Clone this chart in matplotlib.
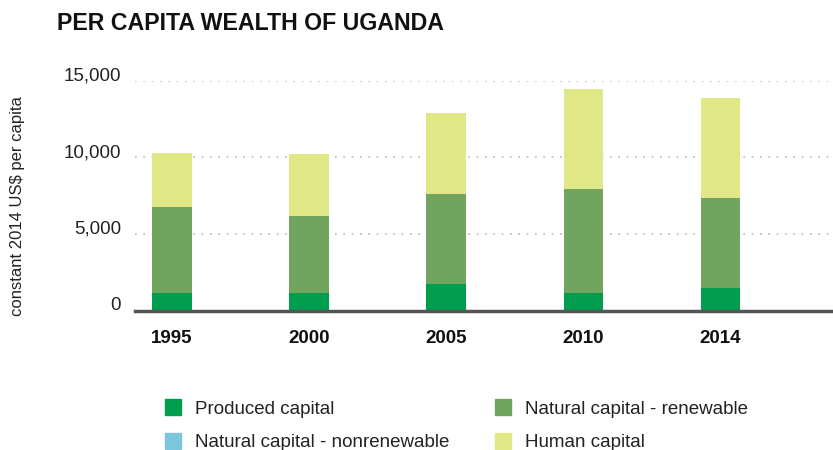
import numpy as np
import matplotlib
matplotlib.use('Agg')
import matplotlib.pyplot as plt
from matplotlib.patches import Patch

plt.rcParams['font.family'] = ['Liberation Sans', 'DejaVu Sans']

years = ['1995', '2000', '2005', '2010', '2014']
produced = [1170, 1110, 1700, 1110, 1500]
nonrenewable = [0, 0, 0, 0, 0]
renewable = [5610, 5080, 5930, 6840, 5870]
human = [3520, 4050, 5280, 6520, 6520]

colors = {'produced': '#009d4f', 'renewable': '#70a45f',
          'nonrenewable': '#7cc6dd', 'human': '#dfe787'}

fig = plt.figure(figsize=(8.33, 4.5), dpi=100)
ax = fig.add_axes([135/833, 1-310.5/450, 1-135/833, (310.5-80.7)/450])

x = np.arange(len(years))
w = 0.29
bottom = np.zeros(len(years))
for vals, key in [(produced, 'produced'), (nonrenewable, 'nonrenewable'),
                  (renewable, 'renewable'), (human, 'human')]:
    ax.bar(x, vals, w, bottom=bottom, color=colors[key], zorder=3, linewidth=0)
    bottom += np.array(vals)

ax.set_xlim(-0.27, 4.82)
ax.set_ylim(0, 15000)
ax.set_yticks([0, 5000, 10000, 15000])
ax.set_yticklabels(['0', '5,000', '10,000', '15,000'], fontsize=13.5, color='#222222')
# labels sit on top of their grid lines
for lab in ax.get_yticklabels():
    lab.set_va('baseline')
ax.set_xticks(x)
ax.set_xticklabels(years, fontsize=13.5, fontweight='bold', color='#111111')
ax.tick_params(axis='both', length=0)
ax.tick_params(axis='y', pad=10)
ax.tick_params(axis='x', pad=14)
ax.grid(axis='y', color='#bbbbbb', linestyle=(0, (1, 4)), linewidth=1.2, zorder=0)
for s in ['top', 'right', 'left']:
    ax.spines[s].set_visible(False)
ax.spines['bottom'].set_color('#555555')
ax.spines['bottom'].set_linewidth(2.5)
ax.spines['bottom'].set_zorder(4)

fig.text(18/833, 1-206/450, 'constant 2014 US$ per capita', rotation=90,
         ha='center', va='center', fontsize=12, color='#222222')

fig.text(57/833, 1-23/450, 'PER CAPITA WEALTH OF UGANDA',
         fontsize=16.7, fontweight='bold', ha='left', va='center', color='#111111')

handles = [Patch(color=colors['produced'], label='Produced capital'),
           Patch(color=colors['nonrenewable'], label='Natural capital - nonrenewable'),
           Patch(color=colors['renewable'], label='Natural capital - renewable'),
           Patch(color=colors['human'], label='Human capital')]
leg = fig.legend(handles=handles, ncol=2, loc='upper left',
                 bbox_to_anchor=(165/833, 1-399/450), frameon=False,
                 prop={'size': 13.5},
                 handlelength=0.85, handleheight=0.96, handletextpad=0.75,
                 columnspacing=2.45, labelspacing=0.8, borderpad=0, borderaxespad=0)
for t in leg.get_texts():
    t.set_color('#222222')

fig.savefig('out.png', dpi=100)
